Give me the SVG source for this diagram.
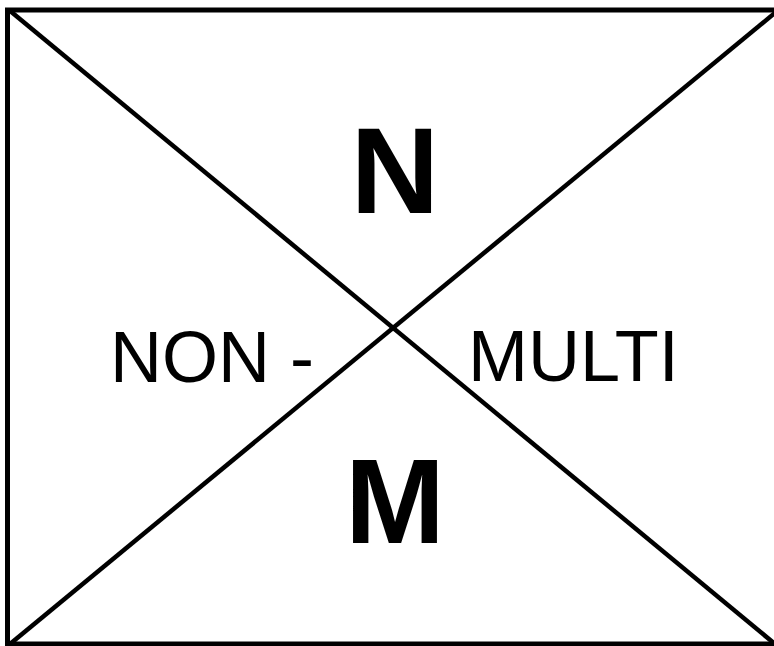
<svg xmlns="http://www.w3.org/2000/svg" width="774" height="646" viewBox="0 0 774 646">
<style>
.ln{stroke:#000;fill:none;stroke-linecap:butt}
.big{font-family:"Liberation Sans",Arial,sans-serif;font-weight:bold;fill:#000;text-anchor:middle}
.lbl{font-family:"Liberation Sans",Arial,sans-serif;font-size:72px;fill:#000}
</style>
<rect width="774" height="646" fill="#fff"/>
<g id="connectors">
<rect class="ln" x="7.5" y="10" width="772" height="634" stroke-width="5"/>
<line class="ln" x1="9" y1="10" x2="775" y2="644" stroke-width="4.5"/>
<line class="ln" x1="776" y1="12" x2="10" y2="644" stroke-width="4.5"/>
</g>
<g id="N"><text class="big" x="395" y="213" font-size="123">N</text></g>
<g id="M"><text class="big" x="395" y="543" font-size="120">M</text></g>
<g id="NON"><text class="lbl" x="110" y="382">NON -</text></g>
<g id="MULTI"><text class="lbl" x="468" y="381">MULTI</text></g>
</svg>
